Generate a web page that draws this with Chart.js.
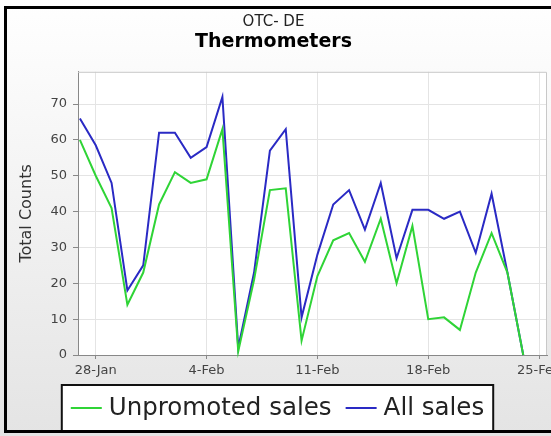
<!DOCTYPE html>
<html>
<head>
<meta charset="utf-8">
<script src="https://cdn.jsdelivr.net/npm/chart.js@4/dist/chart.umd.min.js"></script>
<style>
html,body{margin:0;padding:0;background:#fff;overflow:hidden;}
canvas{display:block;}
</style>
</head>
<body>
<canvas id="c" width="551" height="436"></canvas>
<script>
// Day index 0 = 27-Jan ... 28 = 24-Feb
const dayLabels = ['27-Jan','28-Jan','29-Jan','30-Jan','31-Jan','1-Feb','2-Feb','3-Feb','4-Feb','5-Feb','6-Feb','7-Feb','8-Feb','9-Feb','10-Feb','11-Feb','12-Feb','13-Feb','14-Feb','15-Feb','16-Feb','17-Feb','18-Feb','19-Feb','20-Feb','21-Feb','22-Feb','23-Feb','24-Feb'];
const unpromotedSales = [60,50,41,14,23,42,51,48,49,63,1,21,46,46.5,4,22,32,34,26,38,20,36,10,10.5,7,23,34,23,0];
const allSales        = [66,58.5,48,18,25,62,62,55,58,72,2,23,57,63,10.5,28,42,46,35,48,27,40.5,40.5,38,40,28.5,45,23,0];
const tickDays   = [1,8,15,22,29];
const tickLabels = ['28-Jan','4-Feb','11-Feb','18-Feb','25-Feb'];
const seriesNames = ['Unpromoted sales','All sales'];

const FONT = '"DejaVu Sans", "Lucida Sans", sans-serif';

const toPts = arr => arr.map((v,i)=>({x:i,y:v}));

const bgPlugin = {
  id:'bg',
  beforeDraw(chart){
    const {ctx,width,height,chartArea:a} = chart;
    ctx.save();
    const g = ctx.createLinearGradient(0,0,0,height);
    g.addColorStop(0,'#ffffff');
    g.addColorStop(1,'#e4e4e4');
    ctx.fillStyle = g;
    ctx.fillRect(0,0,width,height);
    ctx.fillStyle = '#ffffff';
    ctx.fillRect(a.left,a.top,a.right-a.left,a.bottom-a.top);
    ctx.restore();
  },
  beforeDatasetsDraw(chart){
    const {ctx,chartArea:a} = chart;
    ctx.save();
    ctx.strokeStyle = '#c8c8c8';
    ctx.lineWidth = 1;
    ctx.beginPath();
    ctx.moveTo(a.left, a.top+0.5);
    ctx.lineTo(a.right-0.5, a.top+0.5);
    ctx.lineTo(a.right-0.5, a.bottom);
    ctx.stroke();
    ctx.restore();
  },
  afterDraw(chart){
    const {ctx} = chart;
    ctx.save();
    // legend
    ctx.font = '24.5px ' + FONT;
    const lineLen = 31, gap = 7, sep = 14;
    const ds = chart.data.datasets;
    const widths = ds.map(d=>lineLen+gap+ctx.measureText(d.label).width);
    const total = widths.reduce((s,w)=>s+w,0) + sep*(ds.length-1);
    let x = 277.5 - total/2;
    const boxL = x-9, boxR = x+total+9, boxT = 385, boxB = 431;
    ctx.fillStyle = '#ffffff';
    ctx.fillRect(boxL,boxT,boxR-boxL,boxB-boxT);
    ctx.strokeStyle = '#111';
    ctx.lineWidth = 2;
    ctx.strokeRect(boxL,boxT,boxR-boxL,boxB-boxT);
    ds.forEach((d,i)=>{
      ctx.strokeStyle = d.borderColor;
      ctx.lineWidth = 2;
      ctx.beginPath();
      ctx.moveTo(x,408);
      ctx.lineTo(x+lineLen,408);
      ctx.stroke();
      ctx.fillStyle = '#222';
      ctx.textBaseline = 'alphabetic';
      ctx.textAlign = 'left';
      ctx.fillText(d.label, x+lineLen+gap, 415);
      x += widths[i] + sep;
    });
    // outer frame
    ctx.strokeStyle = '#000';
    ctx.lineWidth = 3;
    ctx.strokeRect(5.5,7.5,560,424);
    ctx.restore();
  }
};

new Chart(document.getElementById('c'), {
  type:'line',
  data:{
    datasets:[
      {label:seriesNames[0], data:toPts(unpromotedSales), borderColor:'#2fd436', backgroundColor:'#2fd436', borderWidth:2, pointRadius:0, tension:0, fill:false, clip:4},
      {label:seriesNames[1], data:toPts(allSales), borderColor:'#2a2ac4', backgroundColor:'#2a2ac4', borderWidth:2, pointRadius:0, tension:0, fill:false, clip:4}
    ]
  },
  options:{
    responsive:false,
    animation:false,
    devicePixelRatio:1,
    layout:{padding:{left:0,right:4,top:0,bottom:51}},
    plugins:{
      legend:{display:false},
      tooltip:{enabled:false},
      title:{display:true,text:'OTC- DE',color:'#222',font:{family:FONT,size:15,weight:'normal'},padding:{top:13,bottom:0}},
      subtitle:{display:true,text:'Thermometers',color:'#000',font:{family:FONT,size:19,weight:'bold'},padding:{top:0,bottom:18}}
    },
    scales:{
      x:{
        type:'linear',
        min:-0.12, max:29.5,
        afterBuildTicks(s){ s.ticks = tickDays.map(v=>({value:v})); },
        afterFit(s){ s.height = 30; s.paddingLeft = 0; s.paddingRight = 0; },
        ticks:{
          autoSkip:false, maxRotation:0, includeBounds:false, padding:4,
          color:'#444', font:{family:FONT,size:13},
          callback:(v)=>{ const i = tickDays.indexOf(v); return i>=0 ? tickLabels[i] : ''; }
        },
        grid:{color:'#e4e4e4', tickColor:'#888', tickLength:4, drawTicks:true},
        border:{color:'#888', width:1}
      },
      y:{
        type:'linear',
        min:0, max:79,
        afterFit(s){ s.width = 78; },
        ticks:{stepSize:10, includeBounds:false, padding:6, color:'#444', font:{family:FONT,size:13}},
        grid:{color:'#e4e4e4', tickColor:'#888', tickLength:5, drawTicks:true},
        border:{color:'#888', width:1},
        title:{display:true,text:'Total Counts',color:'#333',font:{family:FONT,size:16},padding:{top:17,bottom:0}}
      }
    }
  },
  plugins:[bgPlugin]
});
</script>
</body>
</html>
